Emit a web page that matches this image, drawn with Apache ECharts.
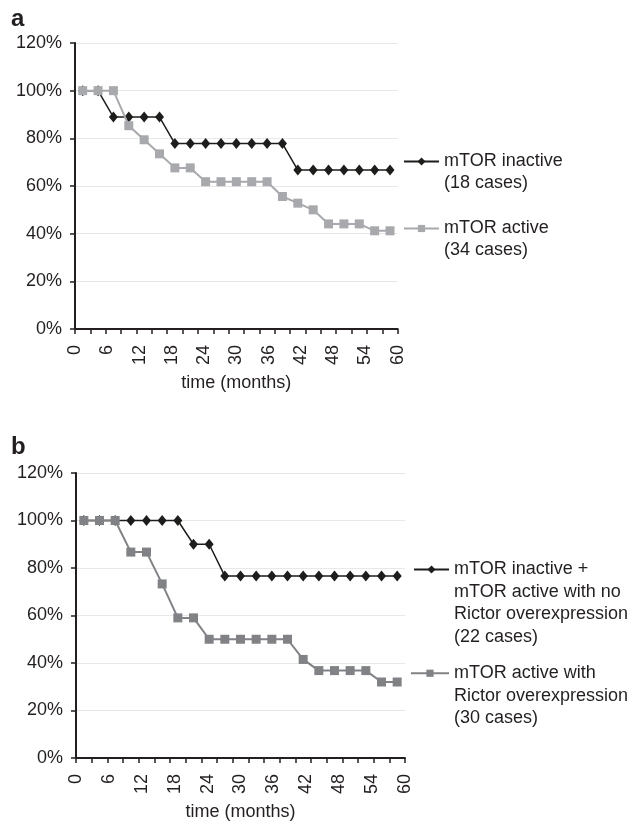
<!DOCTYPE html>
<html>
<head>
<meta charset="utf-8">
<script src="https://cdn.jsdelivr.net/npm/echarts@6/dist/echarts.min.js"></script>
<style>
html,body{margin:0;padding:0;background:#fff;}
#chart{width:633px;height:825px;}
</style>
</head>
<body>
<div id="chart"></div>
<script>
// ---- data ----
const categories = ['0','3','6','9','12','15','18','21','24','27','30','33','36','39','42','45','48','51','54','57','60'];
const panelTitles = ['a', 'b'];
const xTitle = 'time (months)';
// panel a
const aInactive = [100,100,88.9,88.9,88.9,88.9,77.8,77.8,77.8,77.8,77.8,77.8,77.8,77.8,66.7,66.7,66.7,66.7,66.7,66.7,66.7];
const aActive   = [100,100,100,85.3,79.4,73.5,67.6,67.6,61.8,61.8,61.8,61.8,61.8,55.6,52.8,50.0,44.1,44.1,44.1,41.2,41.2];
// panel b
const bInactive = [100,100,100,100,100,100,100,90,90,76.6,76.6,76.6,76.6,76.6,76.6,76.6,76.6,76.6,76.6,76.6,76.6];
const bActive   = [100,100,100,86.7,86.7,73.3,59,59,50,50,50,50,50,50,41.5,36.8,36.8,36.8,36.8,32,32];
// legend texts
const legendA = [['mTOR inactive','(18 cases)'], ['mTOR active','(34 cases)']];
const legendB = [['mTOR inactive +','mTOR active with no','Rictor overexpression','(22 cases)'], ['mTOR active with','Rictor overexpression','(30 cases)']];

const FONT = "'Liberation Sans', Arial, sans-serif";
const TXT = '#231f20';
const BLACK = '#1d1d1b';
const GRAY_A = '#a7a9ac';
const GRAY_B = '#808285';

const chart = echarts.init(document.getElementById('chart'), null, {renderer:'canvas'});

function seriesName(lines){ return lines.join(' '); }

function legendItem(lines, left, top, lh, itemW, itemH){
  const name = seriesName(lines);
  return {
    data:[name], left:left, top:top, padding:0, orient:'vertical',
    itemWidth:itemW, itemHeight:itemH, selectedMode:false,
    formatter: function(){
      let s = '{sp| }';
      for (const l of lines) s += '\n{t|' + l + '}';
      return s;
    },
    textStyle:{
      rich:{
        sp:{fontSize:1, lineHeight:(lines.length-1)*lh},
        t:{fontSize:18, lineHeight:lh, color:TXT, fontFamily:FONT}
      }
    }
  };
}

function yAxis(gi){
  return {
    type:'value', gridIndex:gi, min:0, max:120, interval:20,
    axisLine:{show:true, lineStyle:{color:TXT, width:2}},
    axisTick:{show:true, length:5, lineStyle:{color:TXT, width:1.5}},
    axisLabel:{formatter:'{value}%', fontSize:18, color:TXT, margin:13, fontFamily:FONT},
    splitLine:{show:true, lineStyle:{color:'#e8e8e8', width:1}}
  };
}
function xCat(gi){
  return {
    type:'category', gridIndex:gi, data:categories, boundaryGap:true,
    axisLine:{show:true, lineStyle:{color:TXT, width:2}},
    axisTick:{show:true, interval:0, length:5, lineStyle:{color:TXT, width:1.5}},
    axisLabel:{show:false}, splitLine:{show:false}
  };
}
function xLab(gi){
  return {
    type:'value', gridIndex:gi, position:'bottom', min:0, max:60, interval:6,
    axisLine:{show:false}, axisTick:{show:false}, splitLine:{show:false},
    axisLabel:{rotate:90, margin:16, fontSize:18, color:TXT, fontFamily:FONT},
    name:xTitle, nameLocation:'middle', nameGap:45,
    nameTextStyle:{fontSize:18, color:TXT, fontFamily:FONT}
  };
}
function lineSeries(name, data, xi, yi, color, symbol, size, width, z){
  return {
    name:name, type:'line', xAxisIndex:xi, yAxisIndex:yi, data:data,
    symbol:symbol, symbolSize:size, showAllSymbol:true, z:z,
    lineStyle:{color:color, width:width}, itemStyle:{color:color},
    emphasis:{disabled:true}
  };
}

const option = {
  animation:false,
  backgroundColor:'#ffffff',
  textStyle:{fontFamily:FONT},
  title:[
    {text:panelTitles[0], left:11, top:7, padding:0, textStyle:{fontSize:24, fontWeight:'bold', color:TXT, fontFamily:FONT}},
    {text:panelTitles[1], left:11, top:435, padding:0, textStyle:{fontSize:24, fontWeight:'bold', color:TXT, fontFamily:FONT}}
  ],
  grid:[
    {left:75, top:43, width:322.7, height:286},
    {left:76, top:473, width:329, height:285}
  ],
  xAxis:[xCat(0), xLab(0), xCat(1), xLab(1)],
  yAxis:[yAxis(0), yAxis(1)],
  legend:[
    legendItem(legendA[0], 403, 139, 22, 35, 10),
    legendItem(legendA[1], 403, 206, 22, 35, 9),
    legendItem(legendB[0], 413, 524, 22.5, 35, 10),
    legendItem(legendB[1], 410, 639, 22.5, 38, 9)
  ],
  series:[
    lineSeries(seriesName(legendA[0]), aInactive, 0, 0, BLACK, 'diamond', [9,11], 1.5, 2),
    lineSeries(seriesName(legendA[1]), aActive, 0, 0, GRAY_A, 'rect', 9, 2, 3),
    lineSeries(seriesName(legendB[0]), bInactive, 2, 1, BLACK, 'diamond', [9,11], 1.5, 2),
    lineSeries(seriesName(legendB[1]), bActive, 2, 1, GRAY_B, 'rect', 9, 2, 3)
  ]
};
chart.setOption(option);
</script>
</body>
</html>
